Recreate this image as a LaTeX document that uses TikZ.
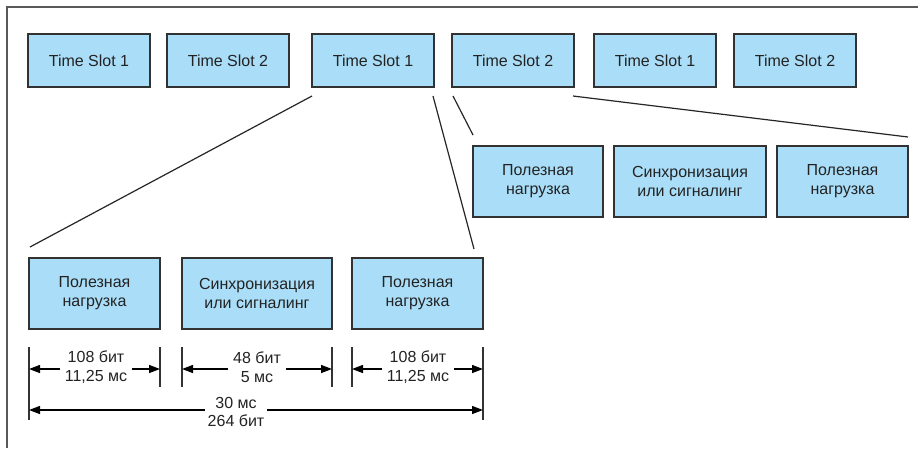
\documentclass[tikz,border=0pt]{standalone}
\usepackage{fontspec}
\setmainfont{Liberation Sans}
\usetikzlibrary{arrows.meta}
\definecolor{boxfill}{RGB}{170,222,248}
\definecolor{boxline}{RGB}{50,50,50}
\definecolor{txt}{RGB}{35,35,35}
\begin{document}
\begin{tikzpicture}[x=1pt,y=-1pt,
  slot/.style={draw=boxline,line width=1.4pt,fill=boxfill,text=txt,minimum width=122pt,minimum height=53pt,inner sep=0pt,font=\fontsize{16}{19}\selectfont,align=center},
  part/.style={draw=boxline,line width=1.4pt,fill=boxfill,text=txt,minimum height=71pt,inner sep=0pt,font=\fontsize{16}{19}\selectfont,align=center},
  conn/.style={draw=black!85,line width=1.2pt},
  tick/.style={draw=black!80,line width=1.2pt},
  dim/.style={draw=black,line width=1.3pt,{Triangle[length=11pt,width=8pt]}-{Triangle[length=11pt,width=8pt]}},
  dimlab/.style={fill=white,text=txt,inner xsep=5pt,inner ysep=1pt,font=\fontsize{16}{18.5}\selectfont,align=center}]
\useasboundingbox (0,0) rectangle (918,448);
\fill[white] (0,0) rectangle (918,448);
% frame
\draw[line width=2pt,draw=black!65] (7,448) -- (7,7) -- (918,7);
% top row
\node[slot] (t1) at (89,60.5) {Time Slot 1};
\node[slot] (t2) at (228,60.5) {Time Slot 2};
\node[slot] (t3) at (373,60.5) {Time Slot 1};
\node[slot] (t4) at (513,60.5) {Time Slot 2};
\node[slot] (t5) at (655,60.5) {Time Slot 1};
\node[slot] (t6) at (795,60.5) {Time Slot 2};
% middle row
\node[part,minimum width=130pt] (m1) at (538,181.5) {Полезная\\нагрузка};
\node[part,minimum width=152pt] (m2) at (690,181.5) {Синхронизация\\или сигналинг};
\node[part,minimum width=131pt] (m3) at (842.5,181.5) {Полезная\\нагрузка};
% bottom row
\node[part,minimum width=131pt] (b1) at (94.5,293.5) {Полезная\\нагрузка};
\node[part,minimum width=150pt] (b2) at (257,293.5) {Синхронизация\\или сигналинг};
\node[part,minimum width=131pt] (b3) at (417.5,293.5) {Полезная\\нагрузка};
% connectors
\coordinate (c3a) at (312,96);
\coordinate (c3b) at (433,96);
\coordinate (e3a) at (30,247);
\coordinate (e3b) at (474,249);
\coordinate (c4a) at (453,96);
\coordinate (c4b) at (573,96);
\coordinate (e4a) at (473,135);
\coordinate (e4b) at (908,137);
\draw[conn] (c3a) -- (e3a);
\draw[conn] (c3b) -- (e3b);
\draw[conn] (c4a) -- (e4a);
\draw[conn] (c4b) -- (e4b);
% dimension ticks
\coordinate (k1t) at (29,347); \coordinate (k1b) at (29,420);
\coordinate (k2t) at (160,347); \coordinate (k2b) at (160,387);
\coordinate (k3t) at (182,347); \coordinate (k3b) at (182,387);
\coordinate (k4t) at (332,347); \coordinate (k4b) at (332,387);
\coordinate (k5t) at (352,347); \coordinate (k5b) at (352,387);
\coordinate (k6t) at (483,347); \coordinate (k6b) at (483,420);
\foreach \k in {1,...,6} {\draw[tick] (k\k t) -- (k\k b);}
% dimension arrows
\coordinate (a1l) at (29,369); \coordinate (a1r) at (160,369);
\coordinate (a2l) at (182,369); \coordinate (a2r) at (332,369);
\coordinate (a3l) at (352,369); \coordinate (a3r) at (483,369);
\coordinate (a4l) at (29,410); \coordinate (a4r) at (483,410);
\draw[dim] (a1l) -- (a1r);
\draw[dim] (a2l) -- (a2r);
\draw[dim] (a3l) -- (a3r);
\draw[dim] (a4l) -- (a4r);
\node[dimlab] (d1) at (96,367) {108 бит\\11,25 мс};
\node[dimlab] (d2) at (257,367) {48 бит\\5 мс};
\node[dimlab] (d3) at (418,367) {108 бит\\11,25 мс};
\node[dimlab,inner xsep=3pt] (d4) at (236,412) {30 мс\\264 бит};
\end{tikzpicture}
\end{document}
